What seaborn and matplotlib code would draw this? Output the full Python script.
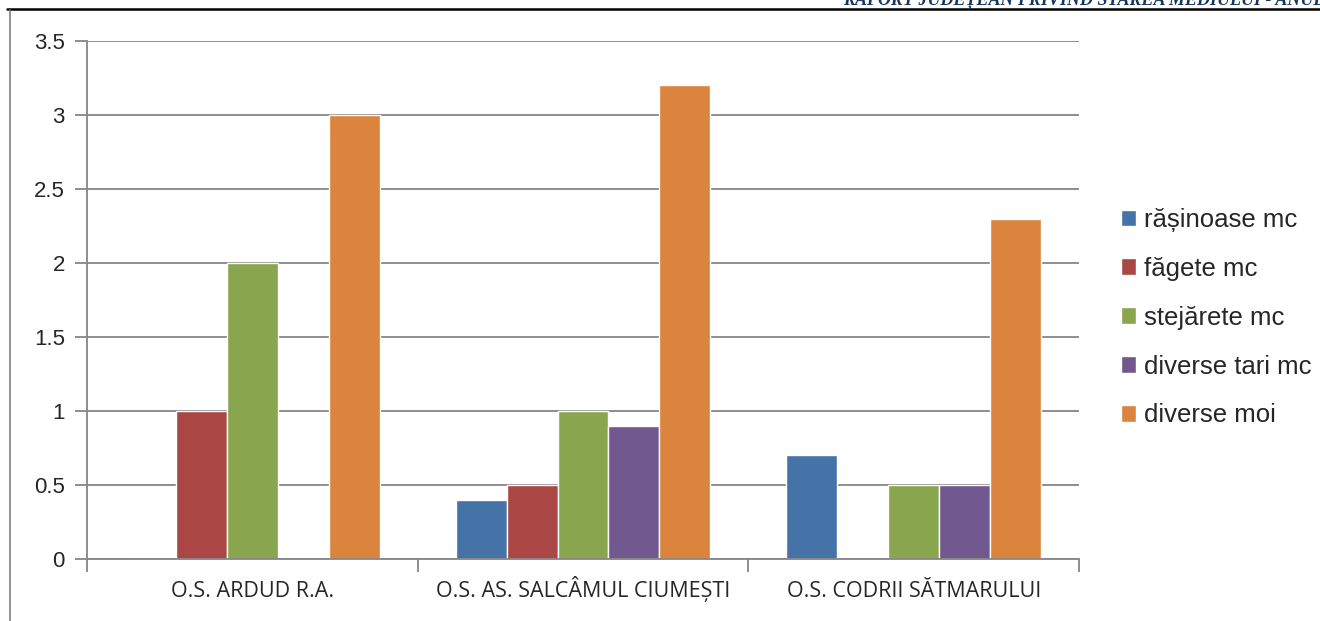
import pandas as pd
import matplotlib.pyplot as plt
import seaborn as sns
from matplotlib.lines import Line2D

# Chart data
units = ["O.S. ARDUD R.A.", "O.S. AS. SALCÂMUL CIUMEȘTI", "O.S. CODRII SĂTMARULUI"]
species = ["rășinoase mc", "făgete mc", "stejărete mc", "diverse tari mc", "diverse moi"]
rasinoase = [0, 0.4, 0.7]
fagete = [1, 0.5, 0]
stejarete = [2, 1, 0.5]
diverse_tari = [0, 0.9, 0.5]
diverse_moi = [3, 3.2, 2.3]
colors = ["#4572A7", "#AA4643", "#89A54E", "#71588F", "#DB843D"]
yticks = [0, 0.5, 1, 1.5, 2, 2.5, 3, 3.5]

rows = []
for sp, vals in zip(species, [rasinoase, fagete, stejarete, diverse_tari, diverse_moi]):
    for u, v in zip(units, vals):
        rows.append({"unit": u, "species": sp, "value": v})
df = pd.DataFrame(rows)

sns.set_style("white")
plt.rcParams['font.family'] = ['Liberation Sans', 'DejaVu Sans']

fig = plt.figure(figsize=(13.2, 6.21), dpi=100)
ax = fig.add_axes([87 / 1320, 62 / 621, 992 / 1320, 518 / 621])

sns.barplot(data=df, x="unit", y="value", hue="species", order=units,
            hue_order=species, palette=colors, width=0.77, gap=0,
            saturation=1, errorbar=None, ax=ax)

grid_c = "#868686"
ax.set_ylim(0, 3.5)
ax.set_xlim(-0.5, 2.5)
ax.set_yticks(yticks)
ax.set_yticklabels([f"{t:g}" for t in yticks], fontsize=16)
ax.yaxis.grid(True, color=grid_c, linewidth=1.3)
ax.set_axisbelow(True)
ax.tick_params(axis="y", length=9, color=grid_c, width=1.3, pad=7, left=True)

# category labels drawn on a common baseline so accents don't shift them
ax.set_xticks([-0.5, 0.5, 1.5, 2.5])
ax.set_xticklabels([])
ax.tick_params(axis="x", length=9, color=grid_c, width=1.3, bottom=True)
for i, u in enumerate(units):
    ax.annotate(u, xy=(i, 0), xycoords=("data", "axes fraction"),
                xytext=(0, -38), textcoords="offset pixels",
                ha="center", va="baseline", fontsize=15.5,
                family=["Open Sans", "DejaVu Sans"])
ax.set_xlabel("")
ax.set_ylabel("")
for s in ["top", "right"]:
    ax.spines[s].set_visible(False)
for s in ["left", "bottom"]:
    ax.spines[s].set_color(grid_c)
    ax.spines[s].set_linewidth(1.3)

ax.legend(loc="center left", bbox_to_anchor=((1121 - 87) / 992, 0.466), frameon=False,
          fontsize=18.5, handlelength=0.6, handleheight=0.6, handletextpad=0.3,
          labelspacing=0.97, borderaxespad=0, borderpad=0)

# Page decorations: cut-off header, rule line and left border
fig.text(843 / 1320, 1 - 4 / 621, "RAPORT JUDEȚEAN PRIVIND STAREA MEDIULUI - ANUL 2014",
         fontsize=13, fontweight="bold", fontstyle="italic", color="#17365D",
         family=["Liberation Serif", "DejaVu Serif"], va="baseline", ha="left")
fig.add_artist(Line2D([7 / 1320, 1], [1 - 9 / 621, 1 - 9 / 621], color="black", linewidth=1.8))
fig.add_artist(Line2D([10 / 1320, 10 / 1320], [0, 1 - 10 / 621], color="#7f7f7f", linewidth=1.2))

fig.savefig("out.png", dpi=100)
